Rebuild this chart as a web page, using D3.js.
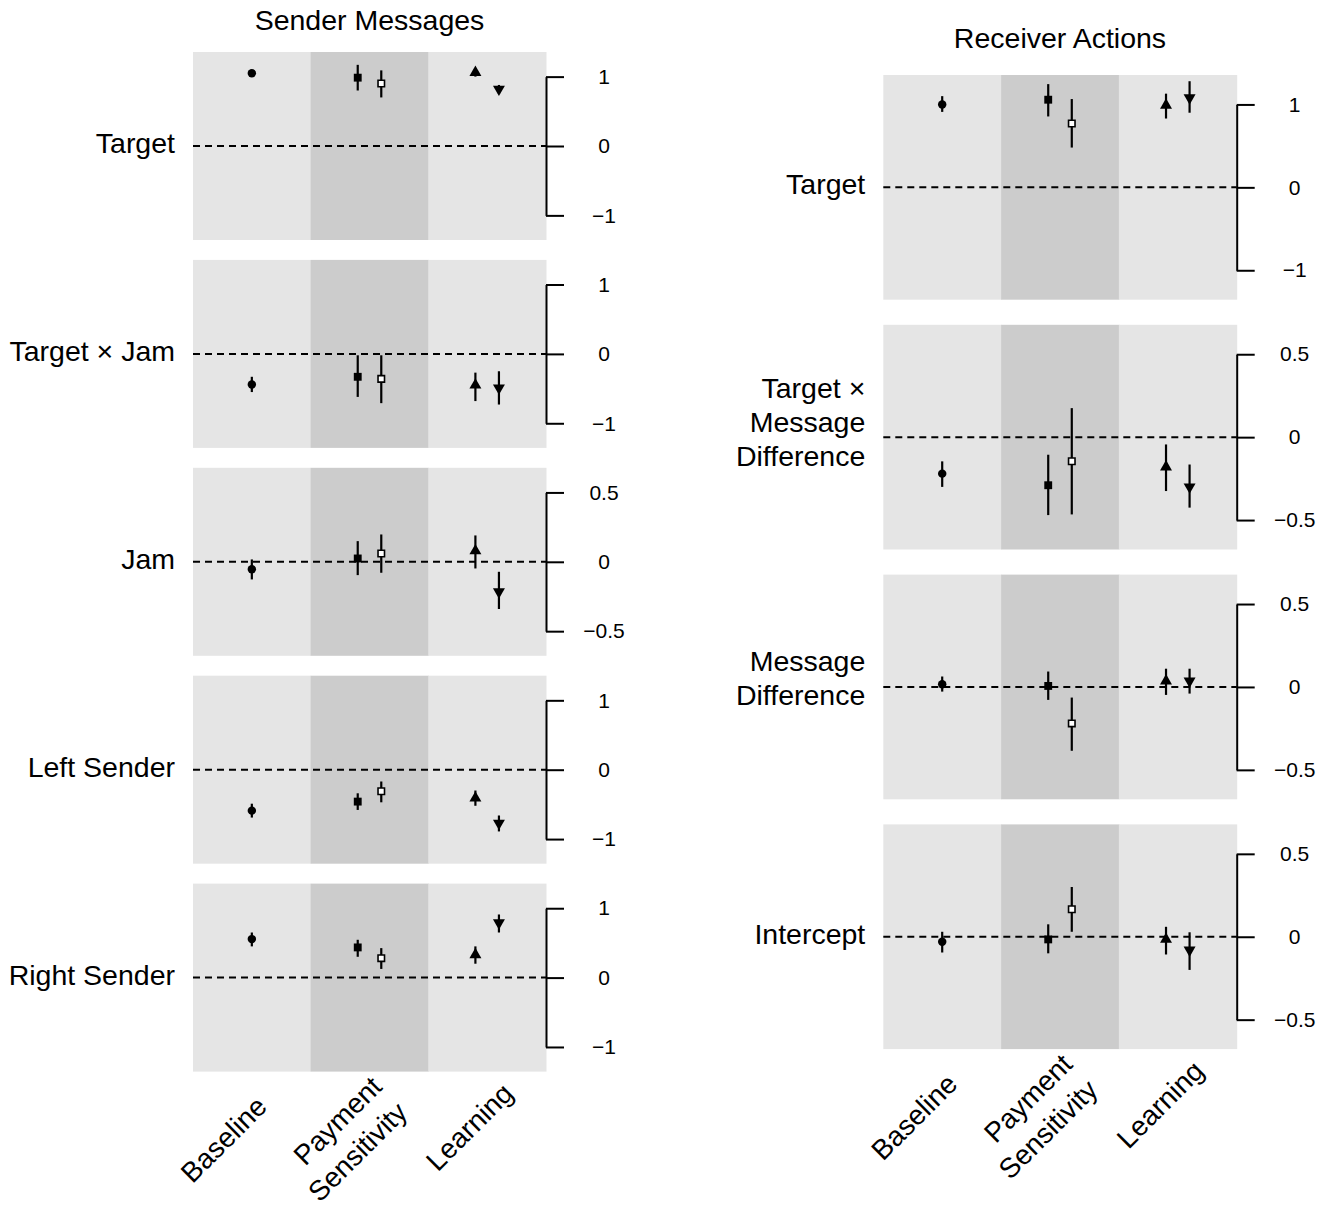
<!DOCTYPE html>
<html>
<head>
<meta charset="utf-8">
<script src="https://cdn.jsdelivr.net/npm/d3@7"></script>
<style>
  body { margin: 0; background: #fff; }
  text { font-family: "Liberation Sans", Arial, Helvetica, sans-serif; fill: #000; }
</style>
</head>
<body>
<div id="grafico"></div>
<script>
/*************************** DADOS ***************************/
var cinzaClaro = '#e5e5e5';     // fundo das colunas Baseline / Learning
var cinzaEscuro = '#cccccc';    // fundo da coluna Payment Sensitivity

var condicoes = ['Baseline', 'Payment\nSensitivity', 'Learning'];

// cada estimativa: em que coluna fica, de que lado, que marcador
var serieCondicao = [0, 1, 1, 2, 2];
var serieLado = ['meio', 'esq', 'dir', 'esq', 'dir'];
var serieForma = ['circulo', 'quadrado', 'quadrado', 'triCima', 'triBaixo'];
var serieCheia = [true, true, false, true, true];

// Sender Messages
var emissorTitulo = 'Sender Messages';
var emissorLinhas = ['Target', 'Target × Jam', 'Jam', 'Left Sender', 'Right Sender'];
var emissorTick = [1, 1, 0.5, 1, 1];
var emissorEst = [
  [1.05, 0.985, 0.90, 1.06, 0.82],
  [-0.44, -0.33, -0.36, -0.45, -0.49],
  [-0.053, 0.024, 0.06, 0.079, -0.216],
  [-0.59, -0.46, -0.31, -0.41, -0.77],
  [0.555, 0.435, 0.28, 0.33, 0.79]
];
var emissorMin = [
  [1.03, 0.80, 0.70, 1.00, 0.75],
  [-0.55, -0.62, -0.71, -0.68, -0.73],
  [-0.127, -0.096, -0.079, -0.048, -0.34],
  [-0.69, -0.58, -0.47, -0.52, -0.89],
  [0.45, 0.30, 0.125, 0.20, 0.65]
];
var emissorMax = [
  [1.07, 1.17, 1.09, 1.12, 0.88],
  [-0.33, -0.02, -0.02, -0.27, -0.25],
  [0.017, 0.149, 0.197, 0.19, -0.072],
  [-0.49, -0.34, -0.17, -0.30, -0.66],
  [0.65, 0.545, 0.425, 0.45, 0.91]
];

// Receiver Actions
var receptorTitulo = 'Receiver Actions';
var receptorLinhas = ['Target', 'Target ×\nMessage\nDifference', 'Message\nDifference', 'Intercept'];
var receptorTick = [1, 0.5, 0.5, 0.5];
var receptorEst = [
  [1.0, 1.057, 0.77, 0.99, 1.08],
  [-0.22, -0.29, -0.145, -0.18, -0.30],
  [0.016, 0.006, -0.22, 0.036, 0.036],
  [-0.03, -0.016, 0.166, -0.016, -0.08]
];
var receptorMin = [
  [0.91, 0.855, 0.48, 0.83, 0.90],
  [-0.30, -0.47, -0.466, -0.325, -0.425],
  [-0.028, -0.078, -0.385, -0.048, -0.04],
  [-0.095, -0.10, 0.03, -0.107, -0.20]
];
var receptorMax = [
  [1.10, 1.245, 1.065, 1.13, 1.28],
  [-0.146, -0.106, 0.175, -0.044, -0.165],
  [0.063, 0.093, -0.064, 0.11, 0.11],
  [0.03, 0.075, 0.30, 0.06, 0.027]
];

// pequenos ajustes de posição dos rótulos inclinados (dx, dy)
var ajusteRotulo = [[10, 30], [20, 23], [21, 17]];

/*************************** DESENHO ***************************/
var largura = 1327, altura = 1207;
var svg = d3.select('#grafico').append('svg')
    .attr('width', largura)
    .attr('height', altura);

desenhaBloco({
  titulo: emissorTitulo, tituloY: 30,
  linhas: emissorLinhas, ticks: emissorTick,
  est: emissorEst, min: emissorMin, max: emissorMax,
  x0: 193, x1: 546, topo: 52, alturaPainel: 188, passo: 207.9
});

desenhaBloco({
  titulo: receptorTitulo, tituloY: 48,
  linhas: receptorLinhas, ticks: receptorTick,
  est: receptorEst, min: receptorMin, max: receptorMax,
  x0: 883.3, x1: 1236.7, topo: 75, alturaPainel: 224.7, passo: 249.8
});

// Desenha uma coluna de painéis (título, painéis e rótulos do eixo x)
function desenhaBloco(cfg) {
  var x = d3.scaleBand().domain(condicoes).range([cfg.x0, cfg.x1]);
  var desloc = d3.scaleOrdinal().domain(['esq', 'meio', 'dir'])
      .range([-0.1 * x.bandwidth(), 0, 0.1 * x.bandwidth()]);

  svg.append('text')
      .text(cfg.titulo)
      .attr('x', (cfg.x0 + cfg.x1) / 2)
      .attr('y', cfg.tituloY)
      .attr('text-anchor', 'middle')
      .style('font-size', '28.5px');

  var fundo;
  cfg.linhas.forEach(function(rotulo, i) {
    var topo = cfg.topo + i * cfg.passo;
    fundo = topo + cfg.alturaPainel;
    var lim = cfg.ticks[i] * 1.355;
    var y = d3.scaleLinear().domain([-lim, lim]).range([fundo, topo]);
    var g = svg.append('g');

    // faixas de fundo
    g.selectAll('rect.faixa')
        .data(condicoes)
        .enter()
        .append('rect')
        .attr('x', function(d) { return x(d); })
        .attr('y', topo)
        .attr('width', x.bandwidth() + 0.5)
        .attr('height', cfg.alturaPainel)
        .style('fill', function(d, k) { return k === 1 ? cinzaEscuro : cinzaClaro; });

    // linha tracejada no zero
    g.append('line')
        .attr('x1', cfg.x0).attr('x2', cfg.x1)
        .attr('y1', y(0)).attr('y2', y(0))
        .style('stroke', '#000')
        .style('stroke-width', 2)
        .style('stroke-dasharray', '7,5');

    // eixo à direita (só entre -tick e +tick)
    var t = cfg.ticks[i];
    var yEixo = d3.scaleLinear().domain([-t, t]).range([y(-t), y(t)]);
    var eixo = g.append('g')
        .attr('transform', 'translate(' + cfg.x1 + ',0)')
        .call(d3.axisRight(yEixo).tickValues([-t, 0, t]).tickSize(18).tickSizeOuter(0).tickFormat(d3.format('~g')));
    eixo.select('.domain').style('stroke-width', 2);
    eixo.selectAll('.tick line').style('stroke-width', 2);
    eixo.selectAll('.tick text')
        .attr('x', 58)
        .attr('text-anchor', 'middle')
        .style('font-size', '21px')
        .style('font-family', '"Liberation Sans", Arial, sans-serif');

    // rótulo da linha (pode ter várias linhas de texto)
    var partes = rotulo.split('\n');
    var centro = y(0) - 3 - (partes.length - 1) * 6;
    var txt = g.append('text')
        .attr('text-anchor', 'end')
        .style('font-size', '28.5px');
    partes.forEach(function(p, k) {
      txt.append('tspan')
          .text(p)
          .attr('x', cfg.x0 - 18)
          .attr('y', centro + (k - (partes.length - 1) / 2) * 34)
          .attr('dominant-baseline', 'central');
    });

    // intervalos e estimativas
    var pontos = cfg.est[i].map(function(v, s) {
      return {
        est: v, lo: cfg.min[i][s], hi: cfg.max[i][s],
        cx: x(condicoes[serieCondicao[s]]) + x.bandwidth() / 2 + desloc(serieLado[s]),
        forma: serieForma[s], cheia: serieCheia[s]
      };
    });

    g.selectAll('line.ic')
        .data(pontos)
        .enter()
        .append('line')
        .attr('x1', function(d) { return d.cx; })
        .attr('x2', function(d) { return d.cx; })
        .attr('y1', function(d) { return y(d.lo); })
        .attr('y2', function(d) { return y(d.hi); })
        .style('stroke', '#000')
        .style('stroke-width', 2.2);

    g.selectAll('path.ponto')
        .data(pontos)
        .enter()
        .append('path')
        .attr('d', function(d) {
          if (d.forma === 'circulo') return d3.symbol(d3.symbolCircle, 56)();
          if (d.forma === 'quadrado') return d3.symbol(d3.symbolSquare, d.cheia ? 62 : 42)();
          return d3.symbol(d3.symbolTriangle, 62)();
        })
        .attr('transform', function(d) {
          var r = d.forma === 'triBaixo' ? ' rotate(180)' : '';
          return 'translate(' + d.cx + ',' + y(d.est) + ')' + r;
        })
        .style('fill', function(d) { return d.cheia ? '#000' : '#fff'; })
        .style('stroke', '#000')
        .style('stroke-width', function(d) { return d.cheia ? 0 : 1.6; });
  });

  // rótulos das condições, inclinados 45 graus
  condicoes.forEach(function(c, k) {
    var ax = x(c) + x.bandwidth() / 2 + ajusteRotulo[k][0];
    var ay = fundo + ajusteRotulo[k][1];
    var partes = c.split('\n');
    var txt = svg.append('text')
        .attr('text-anchor', 'end')
        .attr('transform', 'translate(' + ax + ',' + ay + ') rotate(-45)')
        .style('font-size', '28px');
    partes.forEach(function(p, j) {
      txt.append('tspan')
          .text(p)
          .attr('x', 0)
          .attr('y', (j - (partes.length - 1) / 2) * 36)
          .attr('dominant-baseline', 'central');
    });
  });
}
</script>
</body>
</html>
